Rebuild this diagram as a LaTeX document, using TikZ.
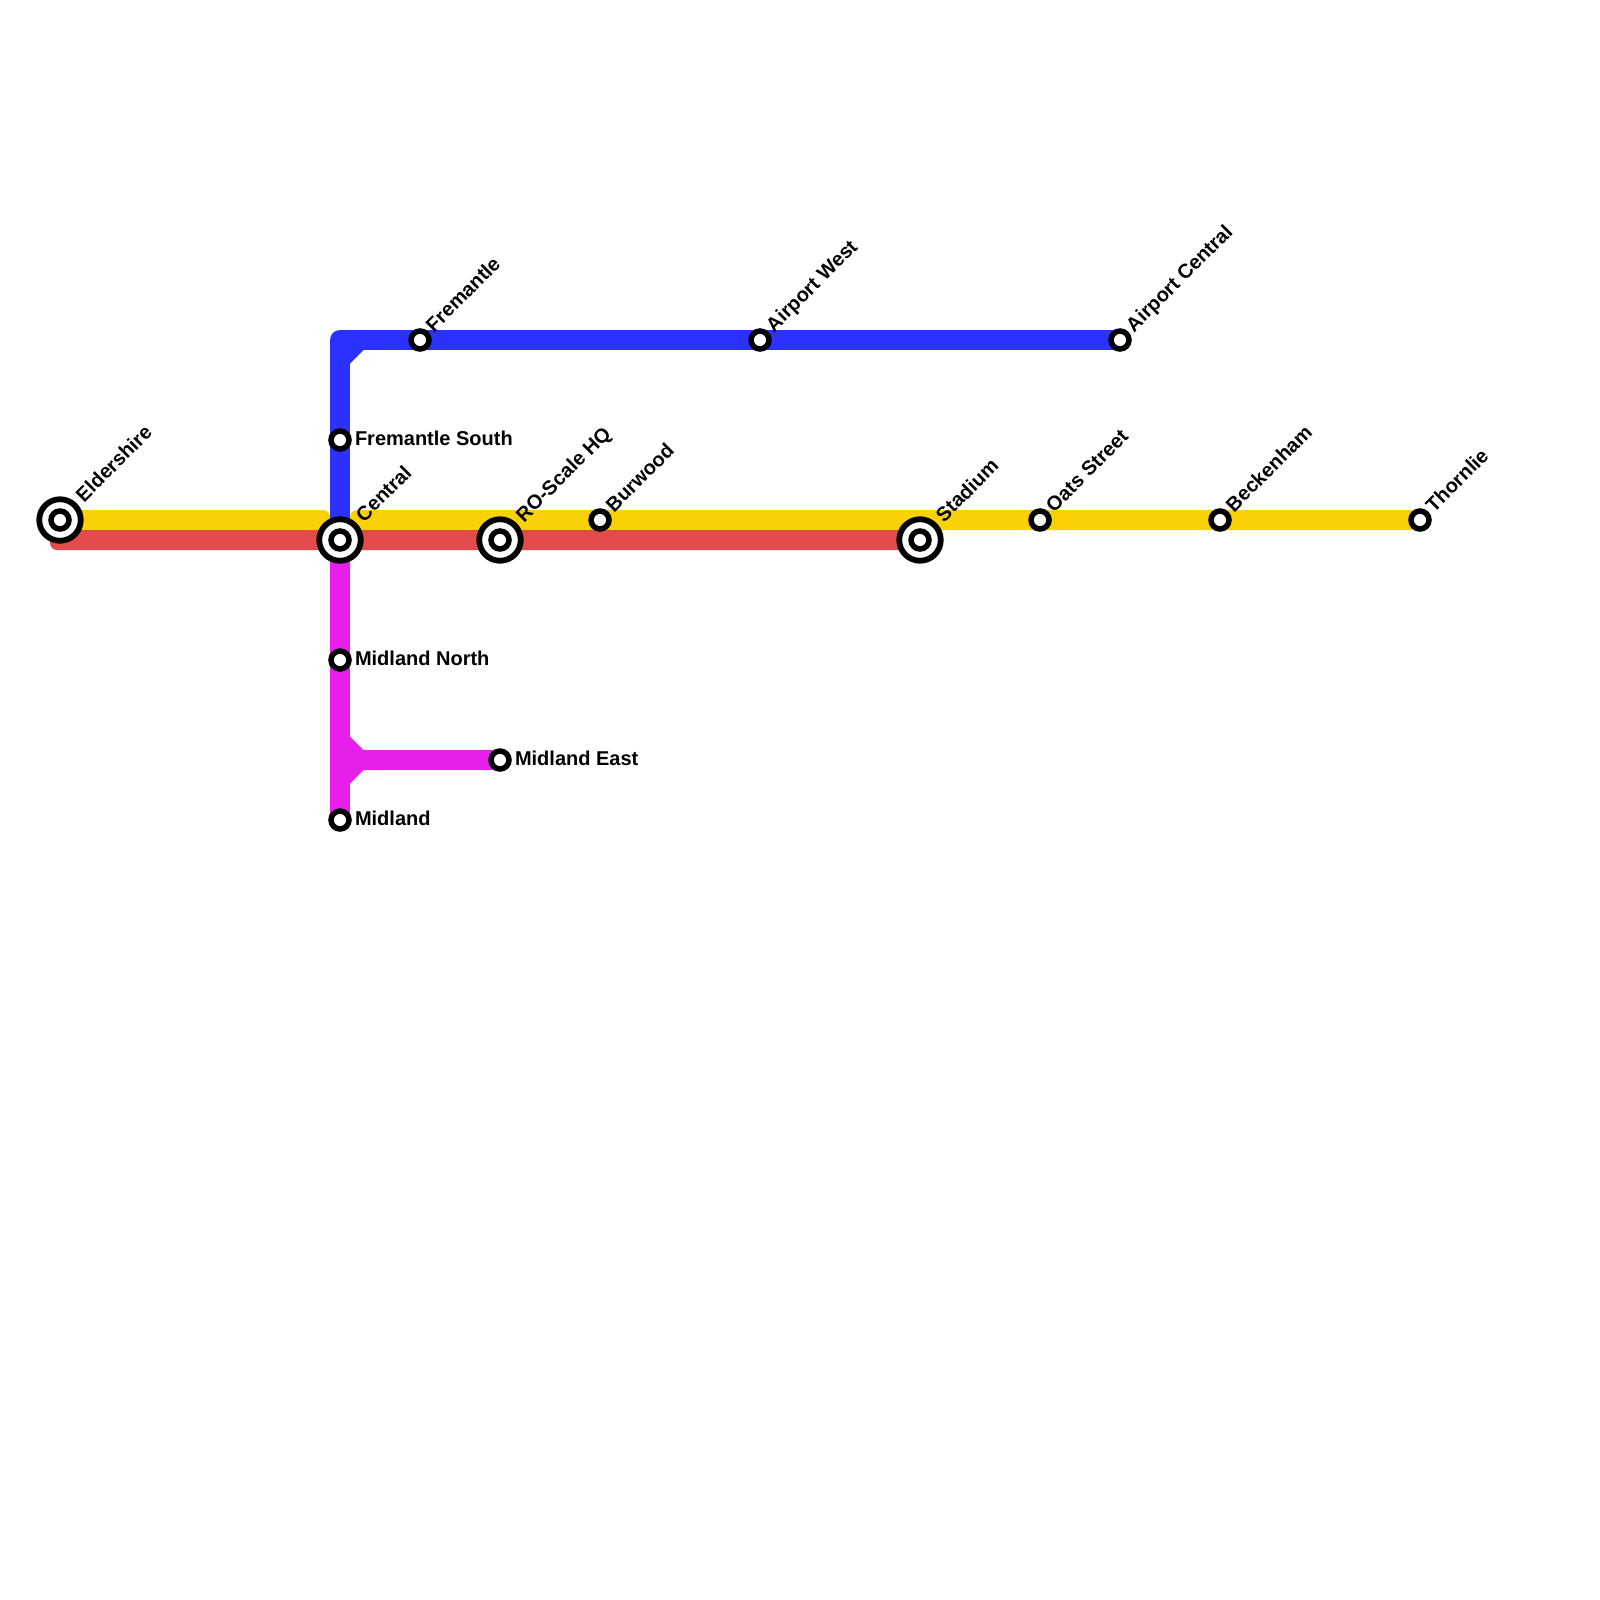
\documentclass[tikz,border=0pt]{standalone}
\usepackage{fontspec}
\setmainfont{Liberation Sans}
\usetikzlibrary{calc}
\definecolor{lineyellow}{HTML}{FAD105}
\definecolor{linered}{HTML}{E34B4B}
\definecolor{lineblue}{HTML}{2B31FF}
\definecolor{linemagenta}{HTML}{E61FEC}
\tikzset{
  halt/.style={circle,draw=black,fill=white,line width=5.5pt,minimum size=18pt,inner sep=0pt,outer sep=0pt},
  hub/.style={circle,draw=black,fill=white,line width=5.8pt,minimum size=41.5pt,inner sep=0pt,outer sep=0pt},
  stationname/.style={inner sep=0pt,outer sep=0pt,anchor=base west,font=\bfseries\fontsize{20}{20}\selectfont,text=black},
  slanted/.style={stationname,rotate=45},
  route/.style={line width=20pt,line cap=butt,line join=round}
}
\begin{document}
\begin{tikzpicture}[x=1pt,y=-1pt]
\useasboundingbox[fill=white] (0,0) rectangle (1600,1600);
% named positions
\coordinate (pEldershire) at (60,520);
\coordinate (pCentral) at (340,540);
\coordinate (pROScale) at (500,540);
\coordinate (pStadium) at (920,540);
\coordinate (pBurwood) at (600,520);
\coordinate (pOats) at (1040,520);
\coordinate (pBeckenham) at (1220,520);
\coordinate (pThornlie) at (1420,520);
\coordinate (pFremantle) at (420,340);
\coordinate (pAirportWest) at (760,340);
\coordinate (pAirportCentral) at (1120,340);
\coordinate (pFremantleSouth) at (340,440);
\coordinate (pMidlandNorth) at (340,660);
\coordinate (pMidlandEast) at (500,760);
\coordinate (pMidland) at (340,820);
\coordinate (blueCorner) at (340,340);
\coordinate (magentaJoin) at (340,760);
% yellow
\fill[lineyellow,rounded corners=7pt] (pEldershire |- 0,510) -- (330,510) -- (330,530) -- (pEldershire |- 0,530) -- cycle;
\fill[lineyellow,rounded corners=7pt] (350,530) -- (350,510) -- (pThornlie |- 0,510) -- (pThornlie |- 0,530) -- cycle;
% red
\fill[linered,rounded corners=7pt] (50,530) -- (50,550) -- (pStadium |- 0,550) -- (pStadium |- 0,530) -- cycle;
% blue
\draw[route,lineblue] (pAirportCentral) -- (blueCorner) -- (pCentral);
\fill[lineblue] (350,350) -- (363.5,350) -- (350,363.5) -- cycle;
% magenta
\draw[route,linemagenta] (pCentral) -- (pMidland);
\draw[route,linemagenta] (magentaJoin) -- (pMidlandEast);
\fill[linemagenta] (350,736.5) -- (363.5,750) -- (363.5,770) -- (350,783.5) -- cycle;
% stations
\node[hub] (eldershire) at (pEldershire) {};
\node[halt] (eldershireInner) at (pEldershire) {};
\node[hub] (central) at (pCentral) {};
\node[halt] (centralInner) at (pCentral) {};
\node[hub] (roscale) at (pROScale) {};
\node[halt] (roscaleInner) at (pROScale) {};
\node[hub] (stadium) at (pStadium) {};
\node[halt] (stadiumInner) at (pStadium) {};
\node[halt] (burwood) at (pBurwood) {};
\node[halt] (oats) at (pOats) {};
\node[halt] (beckenham) at (pBeckenham) {};
\node[halt] (thornlie) at (pThornlie) {};
\node[halt] (fremantle) at (pFremantle) {};
\node[halt] (airportwest) at (pAirportWest) {};
\node[halt] (airportcentral) at (pAirportCentral) {};
\node[halt] (fremantlesouth) at (pFremantleSouth) {};
\node[halt] (midlandnorth) at (pMidlandNorth) {};
\node[halt] (midlandeast) at (pMidlandEast) {};
\node[halt] (midland) at (pMidland) {};
% labels
\node[slanted] (lEldershire) at ($(pEldershire)+(24,-17)$) {Eldershire};
\node[slanted] (lCentral) at ($(pCentral)+(24,-17)$) {Central};
\node[slanted] (lROScale) at ($(pROScale)+(24,-17)$) {RO-Scale HQ};
\node[slanted] (lStadium) at ($(pStadium)+(24,-17)$) {Stadium};
\node[slanted] (lBurwood) at ($(pBurwood)+(14,-7)$) {Burwood};
\node[slanted] (lOats) at ($(pOats)+(14,-7)$) {Oats Street};
\node[slanted] (lBeckenham) at ($(pBeckenham)+(14,-7)$) {Beckenham};
\node[slanted] (lThornlie) at ($(pThornlie)+(14,-7)$) {Thornlie};
\node[slanted] (lFremantle) at ($(pFremantle)+(14,-7)$) {Fremantle};
\node[slanted] (lAirportWest) at ($(pAirportWest)+(14,-7)$) {Airport West};
\node[slanted] (lAirportCentral) at ($(pAirportCentral)+(14,-7)$) {Airport Central};
\node[stationname] (lFremantleSouth) at ($(pFremantleSouth)+(15,5.5)$) {Fremantle South};
\node[stationname] (lMidlandNorth) at ($(pMidlandNorth)+(15,5.5)$) {Midland North};
\node[stationname] (lMidlandEast) at ($(pMidlandEast)+(15,5.5)$) {Midland East};
\node[stationname] (lMidland) at ($(pMidland)+(15,5.5)$) {Midland};
\end{tikzpicture}
\end{document}
